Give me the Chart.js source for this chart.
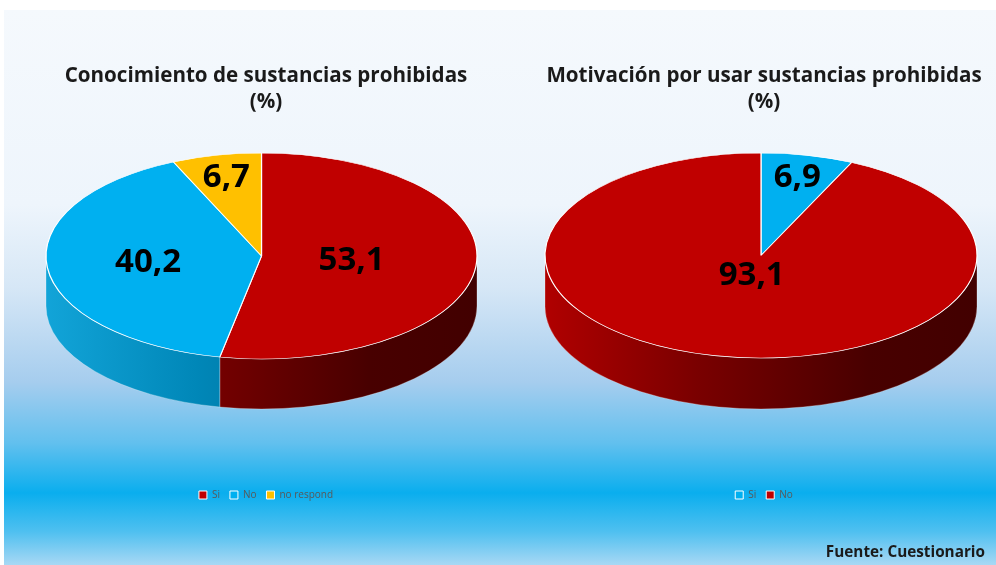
<!DOCTYPE html>
<html>
<head>
<meta charset="utf-8">
<script src="https://cdn.jsdelivr.net/npm/chart.js@4.4.1/dist/chart.umd.min.js"></script>
<style>
  body { margin: 0; background: #fff; width: 996px; height: 565px; overflow: hidden; position: relative; }
  #panel {
    position: absolute; left: 4px; top: 10px; width: 992px; height: 555px;
    background: linear-gradient(to bottom, #f5f9fd 0%, #eef5fc 35%, #d6e7f6 50%, #a6cdee 67%, #62c0ee 78%, #0aaeee 87%, #4fc0f0 94%, #a8d8f4 100%);
  }
  canvas { position: absolute; top: 0; }
  #c1 { left: 0; }
  #c2 { left: 532px; }
  #source {
    position: absolute; right: 11px; top: 541px;
    font: bold 15.3px "Open Sans", sans-serif; color: #1a1a1a;
  }
</style>
</head>
<body>
<div id="panel"></div>
<canvas id="c1" width="532" height="565"></canvas>
<canvas id="c2" width="464" height="565"></canvas>
<div id="source">Fuente: Cuestionario</div>
<script>
// ---- data ----
const catsA = ['Si', 'No', 'no respond'];
const valsA = [53.1, 40.2, 6.7];
const titleA = ['Conocimiento de sustancias prohibidas', '(%)'];

const catsB = ['Si', 'No'];
const valsB = [6.9, 93.1];
const titleB = ['Motivación por usar sustancias prohibidas', '(%)'];

// ---- colours ----
const RED = '#c00000', BLUE = '#00b0f0', YELLOW = '#ffc000';
const sideStops = {};
sideStops[RED] = ['#b00000', '#7a0000', '#480000', '#420000'];
sideStops[BLUE] = ['#12a4d8', '#0087b8', '#006890', '#005a7e'];
sideStops[YELLOW] = ['#e0a800', '#b08000', '#806000', '#705000'];

// fake 3D: squash the library's pie into an ellipse and add a side wall
const pie3d = {
  id: 'pie3d',
  beforeDatasetsDraw(chart, args, o) {
    const ctx = chart.ctx;
    const arcs = chart.getDatasetMeta(0).data;
    const x0 = arcs[0].x, y0 = arcs[0].y, R = arcs[0].outerRadius;
    const { cx, cy, rx, ry, depth } = o;
    ctx.save();
    arcs.forEach(a => {
      const s = Math.max(a.startAngle, 0), e = Math.min(a.endAngle, Math.PI);
      if (s >= e) return;
      const st = sideStops[a.options.backgroundColor];
      const g = ctx.createLinearGradient(cx - rx, 0, cx + rx, 0);
      g.addColorStop(0, st[0]); g.addColorStop(0.35, st[1]);
      g.addColorStop(0.75, st[2]); g.addColorStop(1, st[3]);
      ctx.beginPath();
      ctx.ellipse(cx, cy, rx, ry, 0, s, e);
      ctx.lineTo(cx + rx * Math.cos(e), cy + depth + ry * Math.sin(e));
      ctx.ellipse(cx, cy + depth, rx, ry, 0, e, s, true);
      ctx.closePath();
      ctx.fillStyle = g;
      ctx.fill();
      ctx.strokeStyle = 'rgba(255,255,255,0.35)';
      ctx.lineWidth = 0.8;
      ctx.stroke();
    });
    ctx.translate(cx, cy);
    ctx.scale(rx / R, ry / R);
    ctx.translate(-x0, -y0);
  },
  afterDatasetsDraw(chart, args, o) {
    const ctx = chart.ctx;
    ctx.restore();
    const arcs = chart.getDatasetMeta(0).data;
    const vals = chart.data.datasets[0].data;
    const { cx, cy, rx, ry } = o;
    ctx.save();
    ctx.font = 'bold 33px "Open Sans", sans-serif';
    ctx.fillStyle = '#000';
    ctx.textAlign = 'center';
    ctx.textBaseline = 'middle';
    arcs.forEach((a, i) => {
      const v = vals[i];
      const m = (a.startAngle + a.endAngle) / 2;
      const f = v > 80 ? 0.2 : v > 45 ? 0.42 : v > 20 ? 0.53 : 0.78;
      ctx.fillText(v.toFixed(1).replace('.', ','), cx + f * rx * Math.cos(m), cy + f * ry * Math.sin(m));
    });
    ctx.restore();
  }
};

function makePie(id, cats, vals, colors, title, geo) {
  new Chart(document.getElementById(id), {
    type: 'pie',
    data: {
      labels: cats,
      datasets: [{
        data: vals,
        backgroundColor: colors,
        borderColor: '#ffffff',
        borderWidth: 1,
        clip: false
      }]
    },
    options: {
      responsive: false,
      animation: false,
      events: [],
      layout: { padding: { bottom: 55 } },
      plugins: {
        pie3d: geo,
        title: {
          display: true,
          text: title,
          color: '#1a1a1a',
          font: { family: '"Open Sans", sans-serif', size: 20.6, weight: 'bold', lineHeight: 1.26 },
          padding: { top: 63, bottom: 10 }
        },
        legend: {
          position: 'bottom',
          labels: {
            boxWidth: 8,
            boxHeight: 8,
            padding: 10,
            color: '#595959',
            font: { family: '"Open Sans", sans-serif', size: 10 }
          }
        },
        tooltip: { enabled: false }
      }
    },
    plugins: [pie3d]
  });
}

makePie('c1', catsA, valsA, [RED, BLUE, YELLOW], titleA,
  { cx: 261.5, cy: 256, rx: 215.5, ry: 103, depth: 50 });
makePie('c2', catsB, valsB, [BLUE, RED], titleB,
  { cx: 761 - 532, cy: 255.5, rx: 216, ry: 102.5, depth: 51 });
</script>
</body>
</html>
